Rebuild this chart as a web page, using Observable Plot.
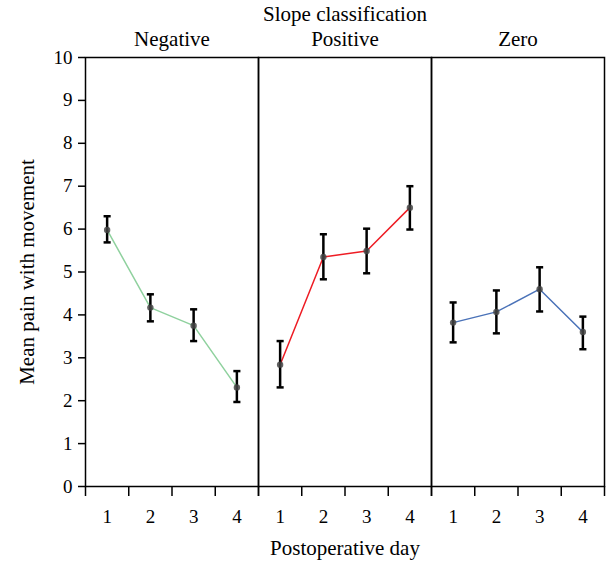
<!DOCTYPE html>
<html><head><meta charset="utf-8">
<script src="https://cdn.jsdelivr.net/npm/d3@7"></script>
<script src="https://cdn.jsdelivr.net/npm/@observablehq/plot@0.6"></script>
<style>body{margin:0;background:#fff}</style>
</head><body><div id="chart"></div>
<script>
const groups = ["Negative", "Positive", "Zero"];
const days = [1, 2, 3, 4];
const yTicks = [0, 1, 2, 3, 4, 5, 6, 7, 8, 9, 10];
const negMean = [5.98, 4.17, 3.75, 2.31];
const negLow  = [5.69, 3.85, 3.39, 1.97];
const negHigh = [6.30, 4.48, 4.13, 2.69];
const posMean = [2.84, 5.35, 5.49, 6.50];
const posLow  = [2.31, 4.83, 4.97, 5.99];
const posHigh = [3.39, 5.88, 6.01, 7.00];
const zeroMean = [3.82, 4.07, 4.60, 3.60];
const zeroLow  = [3.36, 3.57, 4.08, 3.20];
const zeroHigh = [4.29, 4.57, 5.11, 3.96];
const colors = ["#8fd19e", "#ee1c24", "#4a72b8"];

const series = [[negMean, negLow, negHigh], [posMean, posLow, posHigh], [zeroMean, zeroLow, zeroHigh]];
const data = [];
groups.forEach((g, gi) => days.forEach((d, di) => data.push({
  group: g, day: d, mean: series[gi][0][di], low: series[gi][1][di], high: series[gi][2][di]
})));
const bounds = days.map(d => d - 0.5).concat([days[days.length - 1] + 0.5]);

const cap = {draw(ctx, size) { const w = Math.sqrt(size); ctx.moveTo(-w, 0); ctx.lineTo(w, 0); }};
const FS = 21, TS = 19;

const chart = Plot.plot({
  width: 608, height: 562,
  marginLeft: 85, marginRight: 4, marginTop: 57, marginBottom: 76,
  style: {fontFamily: "'Liberation Serif', serif", fontSize: FS + "px", background: "#fff", color: "#000"},
  fx: {domain: groups, padding: 0},
  x: {domain: [bounds[0], bounds[bounds.length - 1]]},
  y: {domain: [0, 10]},
  color: {domain: groups, range: colors},
  marks: [
    Plot.frame({stroke: "#000", strokeWidth: 1.5}),
    Plot.axisY({ticks: yTicks, tickSize: 7, tickPadding: 6, strokeWidth: 1.5, fontSize: TS, label: null}),
    Plot.axisY({ticks: [], tickSize: 0, fontSize: FS, label: "Mean pain with movement", labelAnchor: "center", labelArrow: "none", labelOffset: 66}),
    Plot.axisX({ticks: days, tickFormat: "d", tickSize: 0, tickPadding: 23, fontSize: TS, label: null}),
    Plot.axisX({ticks: [], tickSize: 0, fontSize: FS, label: "Postoperative day", labelAnchor: "center", labelArrow: "none", labelOffset: 68}),
    Plot.axisX({ticks: bounds, tickSize: 10, strokeWidth: 1.5, tickFormat: () => "", label: null}),
    Plot.axisFx({anchor: "top", tickSize: 0, tickPadding: 12, fontSize: FS, label: "Slope classification", labelAnchor: "center", labelArrow: "none", labelOffset: 51}),
    Plot.line(data, {fx: "group", x: "day", y: "mean", stroke: "group", strokeWidth: 1.5}),
    Plot.ruleX(data, {fx: "group", x: "day", y1: "low", y2: "high", stroke: "#000", strokeWidth: 2.5}),
    Plot.dot(data, {fx: "group", x: "day", y: "low", symbol: cap, r: 2, stroke: "#000", strokeWidth: 2.5}),
    Plot.dot(data, {fx: "group", x: "day", y: "high", symbol: cap, r: 2, stroke: "#000", strokeWidth: 2.5}),
    Plot.dot(data, {fx: "group", x: "day", y: "mean", r: 3.2, fill: "#444", fillOpacity: 0.85})
  ]
});
document.getElementById("chart").appendChild(chart);
</script>
</body></html>
